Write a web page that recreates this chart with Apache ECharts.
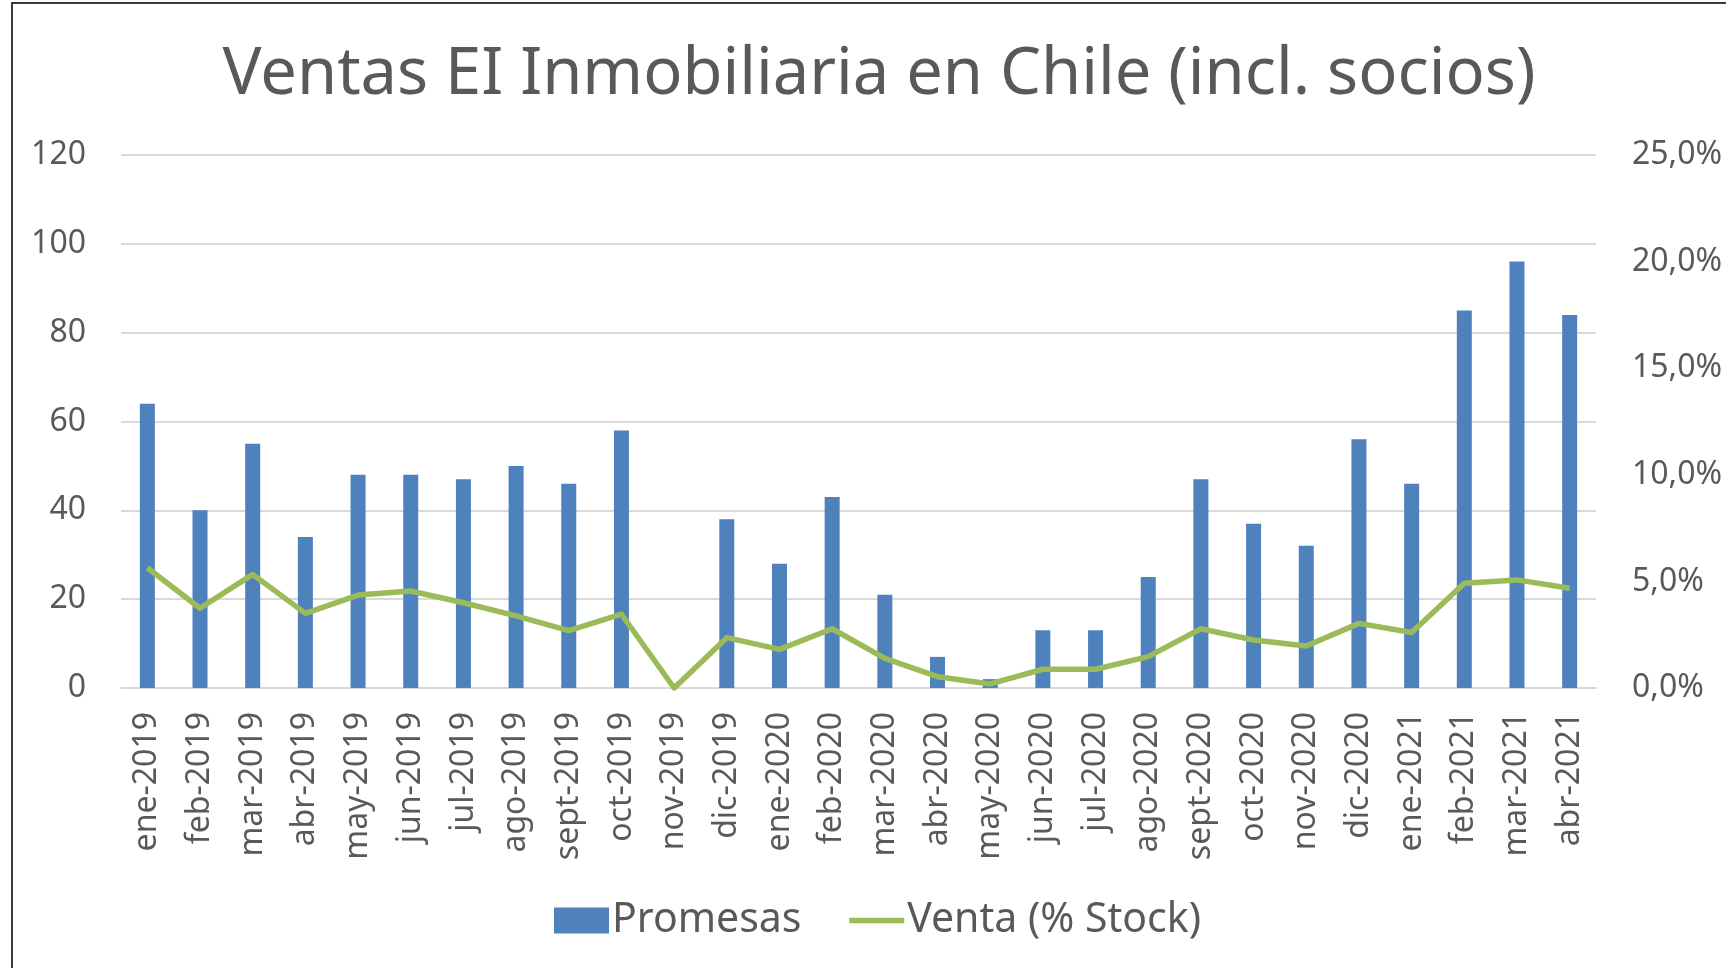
<!DOCTYPE html>
<html>
<head>
<meta charset="utf-8">
<script src="https://cdn.jsdelivr.net/npm/echarts@6/dist/echarts.min.js"></script>
<style>
  html, body { margin: 0; padding: 0; background: #fff; }
  #main { width: 1726px; height: 968px; }
</style>
</head>
<body>
<div id="main"></div>
<script>
var myChart = echarts.init(document.getElementById("main"));

const months = [
  "ene-2019", "feb-2019", "mar-2019", "abr-2019", "may-2019", "jun-2019",
  "jul-2019", "ago-2019", "sept-2019", "oct-2019", "nov-2019", "dic-2019",
  "ene-2020", "feb-2020", "mar-2020", "abr-2020", "may-2020", "jun-2020",
  "jul-2020", "ago-2020", "sept-2020", "oct-2020", "nov-2020", "dic-2020",
  "ene-2021", "feb-2021", "mar-2021", "abr-2021"
];
const promesas = [
  64, 40, 55, 34, 48, 48, 47, 50, 46, 58, 0, 38,
  28, 43, 21, 7, 2, 13, 13, 25, 47, 37, 32, 56,
  46, 85, 96, 84
];
// % of stock
const ventaStock = [
  5.64, 3.74, 5.33, 3.5, 4.36, 4.55, 4.0, 3.38, 2.69, 3.46, 0, 2.36,
  1.81, 2.78, 1.39, 0.53, 0.19, 0.88, 0.88, 1.47, 2.78, 2.25, 1.97, 3.03,
  2.6, 4.91, 5.07, 4.68
];

const textColor = "#595959";
const fontName = "Noto Sans";

option = {
  backgroundColor: "#fff",
  textStyle: { fontFamily: fontName },
  title: {
    text: "Ventas EI Inmobiliaria en Chile (incl. socios)",
    left: 874,
    top: 38,
    textAlign: "center",
    textStyle: {
      fontFamily: fontName,
      fontSize: 65,
      fontWeight: "normal",
      color: textColor,
    },
  },
  graphic: [
    {
      type: "rect",
      shape: { x: 12, y: 3, width: 1800, height: 1000 },
      style: { fill: "none", stroke: "#3a3a3a", lineWidth: 2 },
      silent: true,
    },
  ],
  legend: {
    left: 549,
    top: 895,
    itemWidth: 55,
    itemHeight: 26,
    itemGap: 45,
    textStyle: { fontFamily: fontName, fontSize: 41, color: textColor, padding: [0, 0, 0, -2] },
    data: [
      { name: "Promesas", icon: "rect" },
      {
        name: "Venta (% Stock)",
        itemStyle: { opacity: 0 },
        lineStyle: { width: 5.5, color: "#9bbb59" },
      },
    ],
  },
  grid: { left: 121, right: 130, top: 155, bottom: 280 },
  xAxis: {
    type: "category",
    data: months,
    axisTick: { show: false },
    axisLine: { lineStyle: { color: "#d9d9d9", width: 2 } },
    axisLabel: {
      rotate: 90,
      margin: 24,
      interval: 0,
      fontFamily: fontName,
      fontSize: 32,
      color: textColor,
    },
  },
  yAxis: [
    {
      type: "value",
      min: 0,
      max: 120,
      interval: 20,
      axisLine: { show: false },
      axisTick: { show: false },
      splitLine: { lineStyle: { color: "#d9d9d9", width: 2 } },
      axisLabel: { margin: 35, fontFamily: fontName, fontSize: 32, color: textColor },
    },
    {
      type: "value",
      min: 0,
      max: 25,
      interval: 5,
      axisLine: { show: false },
      axisTick: { show: false },
      splitLine: { show: false },
      axisLabel: {
        margin: 36,
        fontFamily: fontName,
        fontSize: 32,
        color: textColor,
        formatter: function (v) {
          return v.toFixed(1).replace(".", ",") + "%";
        },
      },
    },
  ],
  series: [
    {
      name: "Promesas",
      type: "bar",
      data: promesas,
      barWidth: 15,
      itemStyle: { color: "#4f81bd" },
    },
    {
      name: "Venta (% Stock)",
      type: "line",
      yAxisIndex: 1,
      data: ventaStock,
      symbol: "none",
      lineStyle: { color: "#9bbb59", width: 5.5, join: "round" },
      itemStyle: { color: "#9bbb59" },
    },
  ],
};

myChart.setOption(option);
</script>
</body>
</html>
